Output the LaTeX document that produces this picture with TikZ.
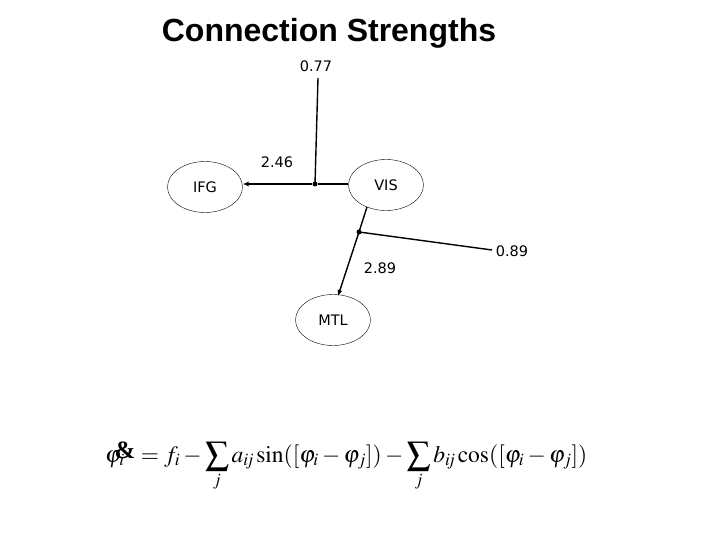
\documentclass[tikz,border=0pt]{standalone}
\usepackage{mathptmx}
\usepackage{fontspec}
\setmainfont{DejaVu Sans}
\newfontfamily\titlefont{Liberation Sans}
\newfontfamily\ampfont{Liberation Serif}
\usetikzlibrary{arrows.meta,shapes.geometric}
\tikzset{
  area/.style={draw,ellipse,minimum width=75pt,minimum height=51pt,inner sep=0pt,font=\fontsize{14.5}{17}\selectfont},
  conn/.style={line width=1.4pt},
  arr/.style={conn,-{Latex[length=6pt,width=5pt]}},
  jdot/.style={circle,fill,inner sep=0pt,minimum size=5pt},
  lbl/.style={font=\fontsize{14.5}{17}\selectfont,inner sep=1pt}
}
\begin{document}
\begin{tikzpicture}[x=1pt,y=-1pt]
\useasboundingbox (0,0) rectangle (720,540);
\node[font=\titlefont\bfseries\fontsize{32}{35}\selectfont] (title) at (329,33) {Connection Strengths};
\node[area] (ifg) at (205,187) {IFG};
\node[area] (vis) at (386,185) {VIS};
\node[area] (mtl) at (333,320) {MTL};
\node[jdot] (j1) at (315,184) {};
\node[jdot] (j2) at (359,232) {};
\coordinate (top) at (318,78);
\coordinate (right) at (492,250);
\node[lbl] (l077) at (316,66) {0.77};
\node[lbl] (l246) at (277,162) {2.46};
\node[lbl] (l089) at (512,251) {0.89};
\node[lbl] (l289) at (380,268) {2.89};
\draw[conn] (vis.west |- j1) -- (j1);
\draw[arr] (j1) -- (ifg.east |- j1);
\draw[conn] (j1.center) -- (top);
\draw[conn] (367,207) -- (j2.center);
\draw[arr] (j2.center) -- (338,296);
\draw[conn] (j2.center) -- (right);
\node[font=\fontsize{23.5}{27}\selectfont,anchor=base west,inner sep=0pt] (eq) at (105,462)
  {$\varphi_i\kern-10pt\raisebox{4pt}{\ampfont\fontsize{25}{25}\selectfont\bfseries\&}\kern0pt = f_i - \displaystyle\sum_j a_{\mathit{ij}}\sin([\varphi_i-\varphi_j]) - \sum_j b_{\mathit{ij}}\cos([\varphi_i-\varphi_j])$};
\end{tikzpicture}
\end{document}
